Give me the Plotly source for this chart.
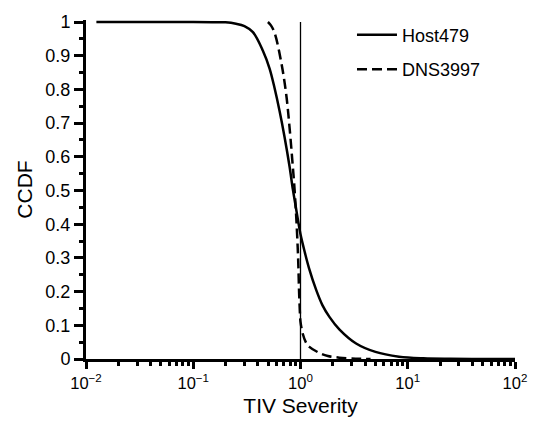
import plotly.graph_objects as go

# Host479 CCDF
host_x = [0.0125, 0.05, 0.1, 0.15, 0.2, 0.25, 0.3, 0.36, 0.446, 0.515, 0.573, 0.638, 0.71, 0.79, 0.848,
          0.9, 0.95, 1.0, 1.1, 1.2, 1.4, 1.6, 1.86, 2.3, 3.3, 5.0, 8.3, 14.0, 25.0, 50.0, 100.0]
host_y = [1.0, 1.0, 1.0, 0.9995, 0.999, 0.995, 0.988, 0.97, 0.915, 0.862, 0.804, 0.736, 0.659, 0.572, 0.504,
          0.455, 0.41, 0.37, 0.315, 0.27, 0.205, 0.16, 0.125, 0.088, 0.046, 0.021, 0.007, 0.002, 0.0005, 0.0001, 0.0]

# DNS3997 CCDF
dns_x = [0.497, 0.53, 0.573, 0.661, 0.736, 0.79, 0.838, 0.88, 0.92, 0.95, 0.97, 0.99, 1.0, 1.05, 1.12,
         1.21, 1.5, 1.8, 2.3, 3.0, 4.5]
dns_y = [1.0, 0.99, 0.968, 0.881, 0.785, 0.688, 0.591, 0.504, 0.40, 0.30, 0.20, 0.13, 0.11, 0.075, 0.05,
         0.036, 0.018, 0.009, 0.004, 0.0015, 0.0]

x_tickvals = [0.01, 0.1, 1, 10, 100]
x_ticktext = ["10<sup>−2</sup>", "10<sup>−1</sup>", "10<sup>0</sup>", "10<sup>1</sup>", "10<sup>2</sup>"]
y_tickvals = [0, 0.1, 0.2, 0.3, 0.4, 0.5, 0.6, 0.7, 0.8, 0.9, 1.0]
y_ticktext = ["0", "0.1", "0.2", "0.3", "0.4", "0.5", "0.6", "0.7", "0.8", "0.9", "1"]
ref_x = 1.0

fig = go.Figure()
fig.add_trace(go.Scatter(x=host_x, y=host_y, mode="lines", name="Host479", legendgroup="a",
                         line=dict(color="black", width=2.5, shape="spline", smoothing=1.0)))
fig.add_trace(go.Scatter(x=dns_x, y=dns_y, mode="lines", name="DNS3997", legendgroup="b",
                         line=dict(color="black", width=2.5, dash="10px,5px", shape="spline", smoothing=1.0)))
fig.add_shape(type="line", x0=ref_x, x1=ref_x, y0=0, y1=1, xref="x", yref="y",
              line=dict(color="black", width=1.3))

font = dict(family="Liberation Sans, Arial, sans-serif", size=17.5, color="black")
axis_common = dict(showgrid=False, zeroline=False, showline=True, linecolor="black", linewidth=3,
                   ticks="outside", tickwidth=3, tickcolor="black")
fig.update_layout(
    width=539, height=428,
    margin=dict(l=86, r=23, t=12, b=69),
    paper_bgcolor="white", plot_bgcolor="white",
    font=font,
    showlegend=True,
    legend=dict(x=0.62, y=1.01, xanchor="left", yanchor="top", bgcolor="rgba(0,0,0,0)",
                font=dict(size=18), tracegroupgap=8, itemwidth=40),
    xaxis=dict(type="log", range=[-2, 2], tickvals=x_tickvals, ticktext=x_ticktext,
               tickfont=dict(size=16.5), ticklen=7,
               minor=dict(ticks="outside", dtick="D1", ticklen=4, tickwidth=2.5, tickcolor="black",
                          showgrid=False),
               title=dict(text="TIV Severity", standoff=8), **axis_common),
    yaxis=dict(range=[0, 1.006], tickvals=y_tickvals, ticktext=y_ticktext,
               tickfont=dict(size=18), ticklen=9,
               minor=dict(ticks="outside", tick0=0, dtick=0.05, ticklen=4, tickwidth=2.5,
                          tickcolor="black", showgrid=False),
               title=dict(text="CCDF", standoff=8), **axis_common),
)
fig.write_html("out.html")
